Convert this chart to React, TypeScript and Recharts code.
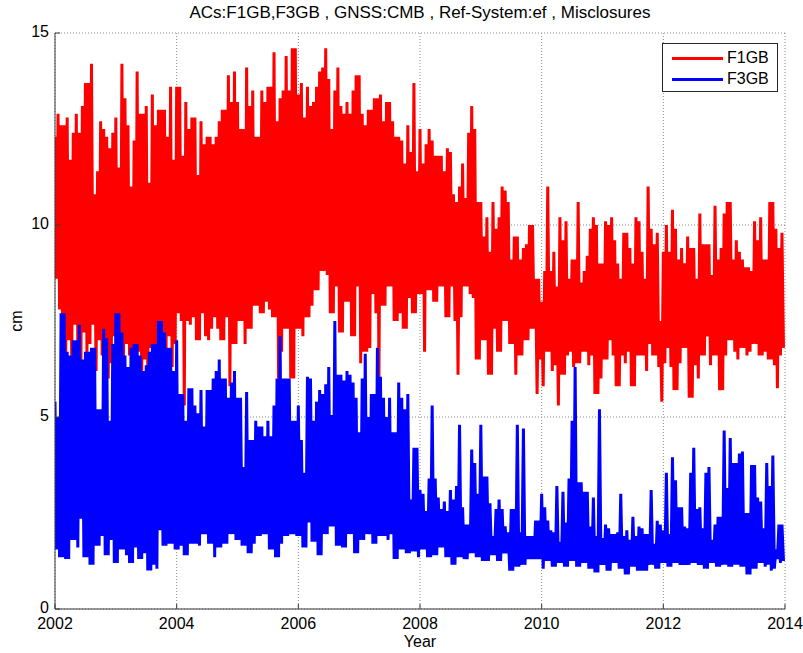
import React from 'react';
import { LineChart, Line, XAxis, YAxis, CartesianGrid } from 'recharts';

// Misclosures in cm, one peak/trough pair per 1/20 year starting at 2002.0
const f1gbPeaks = [
  12.3, 12.9, 12.6, 12.6, 12.8, 11.7, 12.4, 12.9, 12.4, 13.1,
  13.7, 13.7, 14.2, 10.8, 11.4, 12.7, 12.5, 12.3, 12.0, 12.4,
  12.8, 11.5, 14.2, 13.3, 12.6, 11.0, 12.2, 14.0, 12.9, 12.9,
  13.1, 11.1, 13.4, 12.6, 13.0, 13.0, 13.0, 12.3, 13.6, 11.7,
  13.6, 13.6, 11.8, 13.2, 12.5, 12.8, 12.8, 11.3, 12.7, 12.1,
  12.3, 12.3, 12.1, 12.3, 12.7, 13.0, 13.0, 13.9, 13.2, 14.0,
  13.2, 12.5, 12.5, 14.1, 13.1, 13.5, 12.3, 12.3, 13.5, 13.2,
  13.6, 13.6, 14.5, 12.7, 13.3, 13.5, 14.4, 13.5, 14.6, 14.6,
  13.4, 13.7, 12.8, 13.6, 13.1, 13.2, 13.6, 14.0, 14.1, 14.6,
  13.8, 12.5, 13.5, 14.1, 13.1, 12.9, 13.2, 12.9, 13.5, 13.9,
  13.9, 12.9, 12.6, 13.0, 13.0, 13.3, 13.3, 13.4, 12.7, 13.2,
  13.2, 12.7, 12.3, 12.3, 12.2, 11.6, 12.6, 11.9, 13.7, 11.4,
  12.5, 11.6, 12.1, 12.5, 12.2, 11.8, 11.8, 11.8, 11.4, 12.0,
  11.9, 10.8, 10.6, 11.0, 11.6, 10.7, 12.4, 13.1, 12.5, 10.6,
  10.6, 9.7, 10.2, 9.3, 10.6, 9.9, 10.2, 11.0, 10.9, 10.6,
  9.1, 9.7, 9.7, 9.1, 9.4, 9.5, 10.0, 10.0, 8.6, 8.6,
  8.0, 8.8, 11.0, 8.8, 9.3, 8.4, 10.2, 9.6, 10.1, 8.6,
  9.1, 9.1, 10.6, 8.5, 8.8, 9.2, 9.9, 10.2, 10.0, 9.0,
  9.0, 10.1, 10.0, 10.2, 9.6, 9.0, 8.6, 9.8, 9.8, 9.4,
  9.0, 10.2, 10.1, 9.3, 8.6, 11.0, 9.9, 9.5, 9.8, 7.5,
  9.3, 10.0, 9.3, 10.4, 9.9, 9.1, 9.4, 9.0, 9.7, 9.4,
  9.4, 8.6, 10.3, 9.5, 9.5, 9.5, 8.7, 10.5, 9.1, 9.4,
  10.3, 10.6, 10.6, 9.1, 9.6, 9.3, 9.1, 8.9, 8.9, 8.8,
  10.1, 9.6, 10.2, 9.1, 9.1, 10.6, 10.6, 9.9, 9.4, 9.8,
];

const f1gbTroughs = [
  8.6, 7.8, 7.2, 6.3, 7.0, 6.5, 7.4, 6.8, 6.1, 7.2,
  6.6, 6.9, 7.4, 6.2, 7.0, 6.6, 6.9, 6.0, 6.4, 7.1,
  6.8, 6.5, 6.2, 6.9, 6.6, 5.4, 6.3, 6.7, 6.1, 6.5,
  6.2, 6.8, 5.5, 6.7, 6.4, 6.9, 6.6, 7.1, 6.3, 6.9,
  7.7, 7.5, 5.3, 7.5, 7.4, 7.6, 7.0, 7.0, 7.7, 7.1,
  7.0, 7.3, 7.6, 7.3, 7.0, 7.0, 7.6, 5.8, 6.9, 6.9,
  7.5, 7.5, 6.9, 7.3, 7.3, 7.9, 7.9, 7.7, 7.7, 8.0,
  7.8, 7.6, 7.6, 6.0, 6.7, 7.3, 7.3, 6.0, 6.0, 7.3,
  7.3, 7.1, 7.6, 7.6, 7.9, 8.3, 8.3, 8.8, 8.8, 8.7,
  7.7, 7.7, 8.4, 7.2, 7.2, 8.0, 8.0, 7.1, 7.1, 8.4,
  6.4, 6.7, 6.7, 6.8, 8.2, 7.7, 6.0, 7.9, 7.9, 8.4,
  8.4, 7.5, 7.5, 7.7, 7.3, 7.3, 8.1, 7.7, 7.7, 8.2,
  8.2, 6.7, 8.3, 8.3, 8.0, 8.0, 8.4, 8.4, 7.6, 7.6,
  8.4, 7.5, 6.1, 7.6, 8.4, 8.4, 8.2, 8.1, 6.5, 6.5,
  7.0, 7.0, 6.1, 6.1, 7.3, 6.7, 6.7, 7.5, 7.5, 6.9,
  6.9, 6.1, 6.6, 6.6, 7.0, 7.0, 7.3, 7.3, 5.6, 6.5,
  5.8, 6.7, 6.7, 6.2, 6.35, 5.3, 6.1, 6.1, 6.6, 6.7,
  6.3, 6.4, 6.4, 6.7, 6.7, 6.35, 6.6, 5.6, 5.6, 6.0,
  6.5, 6.5, 7.0, 6.6, 5.8, 5.8, 6.6, 6.4, 6.7, 5.8,
  5.8, 6.6, 6.6, 6.6, 6.2, 6.9, 6.6, 6.6, 6.3, 5.4,
  6.4, 6.8, 6.3, 5.7, 5.7, 6.4, 6.8, 6.8, 5.5, 5.5,
  6.35, 6.0, 6.6, 6.6, 7.1, 6.35, 6.6, 6.6, 5.7, 5.7,
  6.6, 7.0, 7.0, 6.7, 6.5, 6.8, 6.8, 6.6, 6.7, 6.9,
  6.9, 6.6, 6.6, 6.7, 6.5, 6.5, 6.35, 5.75, 6.6, 6.8,
];

const f3gbPeaks = [
  5.4, 5.0, 7.7, 7.7, 6.7, 6.6, 7.0, 7.0, 7.4, 6.5,
  6.7, 6.7, 6.8, 6.8, 5.2, 5.2, 7.3, 7.05, 4.9, 6.9,
  7.7, 7.7, 7.2, 6.6, 6.3, 6.8, 6.9, 6.9, 6.6, 6.2,
  6.35, 6.7, 6.9, 6.9, 7.5, 7.5, 7.2, 6.8, 6.8, 6.2,
  7.0, 5.6, 5.6, 4.9, 5.75, 5.75, 5.3, 5.1, 5.7, 4.75,
  5.7, 5.7, 6.0, 6.2, 6.5, 6.0, 6.0, 5.5, 5.9, 6.2,
  5.5, 5.5, 3.7, 5.65, 4.4, 4.4, 4.9, 4.75, 4.75, 4.5,
  4.9, 4.5, 5.3, 6.0, 7.1, 6.0, 6.0, 6.0, 4.9, 4.9,
  5.3, 4.4, 3.55, 6.05, 6.0, 4.9, 5.4, 5.7, 5.6, 5.85,
  6.3, 5.05, 7.5, 6.1, 6.1, 5.95, 6.2, 6.1, 5.9, 5.5,
  4.6, 6.0, 6.65, 5.0, 5.6, 5.6, 6.8, 6.05, 5.5, 5.0,
  5.5, 4.6, 4.6, 5.9, 5.5, 5.2, 5.6, 2.85, 4.2, 4.2,
  3.1, 3.0, 2.55, 3.4, 5.3, 3.4, 2.9, 2.6, 2.8, 2.55,
  3.1, 2.85, 3.2, 4.8, 2.65, 2.2, 2.2, 4.15, 3.8, 3.0,
  4.8, 3.45, 3.45, 2.75, 1.9, 2.6, 2.85, 2.6, 2.15, 2.0,
  2.6, 2.6, 4.8, 2.0, 4.7, 1.9, 1.9, 1.9, 2.3, 2.3,
  3.0, 2.65, 2.3, 2.05, 2.0, 3.2, 1.75, 3.05, 2.25, 3.4,
  4.9, 6.3, 3.3, 3.3, 3.05, 3.05, 2.15, 2.9, 1.9, 5.2,
  1.85, 2.2, 2.1, 1.95, 1.95, 2.0, 3.0, 1.9, 2.05, 1.8,
  2.4, 1.9, 2.15, 2.1, 1.95, 1.95, 3.1, 1.7, 2.3, 2.2,
  2.05, 3.55, 1.95, 3.95, 3.35, 2.65, 2.65, 2.15, 2.1, 3.55,
  4.2, 2.6, 2.65, 2.1, 3.55, 3.7, 1.8, 2.2, 2.4, 2.4,
  4.65, 3.15, 4.45, 3.8, 3.8, 4.05, 4.1, 2.5, 2.5, 3.75,
  3.75, 2.9, 2.8, 2.1, 3.8, 3.2, 4.0, 1.55, 2.2, 2.2,
];

const f3gbTroughs = [
  1.55, 1.35, 1.35, 1.3, 1.3, 1.8, 1.8, 1.6, 2.35, 1.35,
  1.35, 1.15, 1.15, 1.65, 1.65, 1.9, 1.4, 1.4, 1.8, 1.2,
  1.2, 1.55, 1.55, 1.4, 1.2, 1.2, 1.6, 1.3, 1.3, 1.45,
  1.0, 1.0, 1.15, 1.05, 2.05, 1.65, 1.65, 1.7, 1.7, 1.55,
  1.55, 1.65, 1.4, 1.4, 1.7, 1.7, 1.7, 1.65, 1.95, 1.95,
  1.7, 1.7, 1.35, 1.6, 1.6, 1.7, 1.7, 1.95, 1.95, 1.8,
  1.8, 1.65, 1.65, 1.45, 1.45, 1.7, 1.9, 1.9, 1.95, 1.95,
  1.55, 1.55, 1.35, 1.35, 1.7, 1.9, 1.9, 1.95, 1.95, 1.9,
  1.9, 1.6, 1.6, 2.25, 1.75, 1.75, 1.4, 1.4, 1.95, 1.95,
  2.15, 2.15, 1.65, 1.65, 1.6, 1.6, 1.95, 1.95, 1.45, 1.45,
  1.8, 1.8, 1.95, 1.95, 1.7, 1.7, 1.9, 1.9, 1.9, 1.8,
  1.95, 1.3, 1.3, 1.55, 1.55, 1.45, 1.45, 1.5, 1.5, 1.35,
  1.55, 1.55, 1.35, 1.35, 1.4, 1.4, 1.6, 1.6, 1.35, 1.35,
  1.15, 1.15, 1.35, 1.35, 1.3, 1.3, 1.45, 1.45, 1.35, 1.35,
  1.25, 1.25, 1.25, 1.4, 1.4, 1.25, 1.25, 1.45, 1.45, 1.0,
  1.0, 1.1, 1.1, 1.15, 1.15, 1.3, 1.3, 1.3, 1.3, 1.3,
  1.05, 1.25, 1.25, 1.1, 1.1, 1.2, 1.2, 1.1, 1.1, 1.25,
  1.25, 1.1, 1.1, 1.2, 1.2, 1.05, 1.05, 0.95, 0.95, 1.15,
  1.15, 1.0, 1.0, 1.2, 1.2, 1.05, 1.05, 0.9, 0.9, 1.1,
  1.1, 1.0, 1.0, 1.0, 1.0, 1.15, 1.15, 1.05, 1.05, 1.2,
  1.2, 1.1, 1.1, 1.2, 1.2, 1.15, 1.15, 1.15, 1.15, 1.2,
  1.2, 1.15, 1.15, 1.05, 1.05, 1.2, 1.2, 1.1, 1.1, 1.15,
  1.15, 1.1, 1.1, 1.15, 1.15, 1.1, 1.1, 0.9, 0.9, 1.05,
  1.05, 1.2, 1.2, 1.1, 1.15, 1.0, 1.05, 1.3, 1.2, 1.25,
];

const START_YEAR = 2002;
const PAIRS_PER_YEAR = 20;
const yearTicks = [2002, 2004, 2006, 2008, 2010, 2012, 2014];
const cmTicks = [0, 5, 10, 15];

const series = [
  { key: 'f1gb', name: 'F1GB', color: '#ff0000' },
  { key: 'f3gb', name: 'F3GB', color: '#0000ff' },
];

// peak then trough within each sampling step
const rows = f1gbPeaks.flatMap((peak, i) => {
  const year = START_YEAR + i / PAIRS_PER_YEAR;
  return [
    { year, f1gb: peak, f3gb: f3gbPeaks[i] },
    { year: year + 0.5 / PAIRS_PER_YEAR, f1gb: f1gbTroughs[i], f3gb: f3gbTroughs[i] },
  ];
});

const FONT = '"Liberation Sans", Arial, Helvetica, sans-serif';
const AXIS = '#3a3a3a';
const TICK_LEN = 5;

const BottomTick = ({ x, y, payload }: any) => (
  <g>
    <line x1={x} x2={x} y1={y} y2={y - TICK_LEN} stroke={AXIS} />
    <text x={x} y={y + 20} textAnchor="middle" fontSize={16} fontFamily={FONT} fill="#000">
      {payload.value}
    </text>
  </g>
);

const TopTick = ({ x, y }: any) => (
  <line x1={x} x2={x} y1={y} y2={y + TICK_LEN} stroke={AXIS} />
);

const LeftTick = ({ x, y, payload }: any) => (
  <g>
    <line x1={x} x2={x + TICK_LEN} y1={y} y2={y} stroke={AXIS} />
    <text x={x - 6} y={y + 4} textAnchor="end" fontSize={16} fontFamily={FONT} fill="#000">
      {payload.value}
    </text>
  </g>
);

const RightTick = ({ x, y }: any) => (
  <line x1={x} x2={x - TICK_LEN} y1={y} y2={y} stroke={AXIS} />
);

const label: React.CSSProperties = {
  position: 'absolute',
  fontFamily: FONT,
  color: '#000',
  whiteSpace: 'nowrap',
};

export default function App() {
  return (
    <div style={{ position: 'absolute', left: 0, top: 0, width: 803, height: 653, background: '#fff' }}>
      <LineChart
        width={803}
        height={653}
        data={rows}
        margin={{ top: 33, right: 18, bottom: 14, left: 10 }}
      >
        <CartesianGrid stroke="#8a8a8a" strokeDasharray="1 2" />
        <XAxis
          dataKey="year"
          type="number"
          domain={[2002, 2014]}
          ticks={yearTicks}
          interval={0}
          allowDataOverflow
          height={30}
          tickSize={0}
          tickMargin={0}
          tickLine={false}
          axisLine={{ stroke: AXIS }}
          tick={<BottomTick />}
        />
        <XAxis
          xAxisId="top"
          orientation="top"
          type="number"
          domain={[2002, 2014]}
          ticks={yearTicks}
          interval={0}
          height={0}
          tickSize={0}
          tickMargin={0}
          tickLine={false}
          axisLine={false}
          tick={<TopTick />}
        />
        <YAxis
          type="number"
          domain={[0, 15]}
          ticks={cmTicks}
          interval={0}
          allowDataOverflow
          width={45}
          tickSize={0}
          tickMargin={0}
          tickLine={false}
          axisLine={{ stroke: AXIS }}
          tick={<LeftTick />}
        />
        <YAxis
          yAxisId="right"
          orientation="right"
          type="number"
          domain={[0, 15]}
          ticks={cmTicks}
          interval={0}
          width={0}
          tickSize={0}
          tickMargin={0}
          tickLine={false}
          axisLine={false}
          tick={<RightTick />}
        />
        {series.map((s) => (
          <Line
            key={s.key}
            dataKey={s.key}
            name={s.name}
            type="linear"
            stroke={s.color}
            strokeWidth={3}
            dot={false}
            activeDot={false}
            isAnimationActive={false}
          />
        ))}
      </LineChart>

      <div style={{ ...label, left: 120, width: 600, top: 3, textAlign: 'center', fontSize: 17, lineHeight: '20px' }}>
        ACs:F1GB,F3GB , GNSS:CMB , Ref-System:ef , Misclosures
      </div>
      <div style={{ ...label, left: 370, width: 100, top: 632, textAlign: 'center', fontSize: 16, lineHeight: '20px' }}>
        Year
      </div>
      <div
        style={{
          ...label,
          left: -33,
          width: 100,
          top: 311,
          textAlign: 'center',
          fontSize: 16,
          lineHeight: '20px',
          transform: 'rotate(-90deg)',
        }}
      >
        cm
      </div>

      <div
        style={{
          position: 'absolute',
          left: 662,
          top: 43,
          width: 114,
          height: 47,
          border: '1px solid #262626',
          background: '#fff',
          fontFamily: FONT,
          fontSize: 16,
        }}
      >
        {series.map((s, i) => (
          <div
            key={s.key}
            style={{ position: 'absolute', left: 9, top: 4 + i * 21, height: 20, display: 'flex', alignItems: 'center' }}
          >
            <span style={{ display: 'inline-block', width: 51, height: 3, background: s.color }} />
            <span style={{ marginLeft: 4, lineHeight: '20px' }}>{s.name}</span>
          </div>
        ))}
      </div>
    </div>
  );
}
